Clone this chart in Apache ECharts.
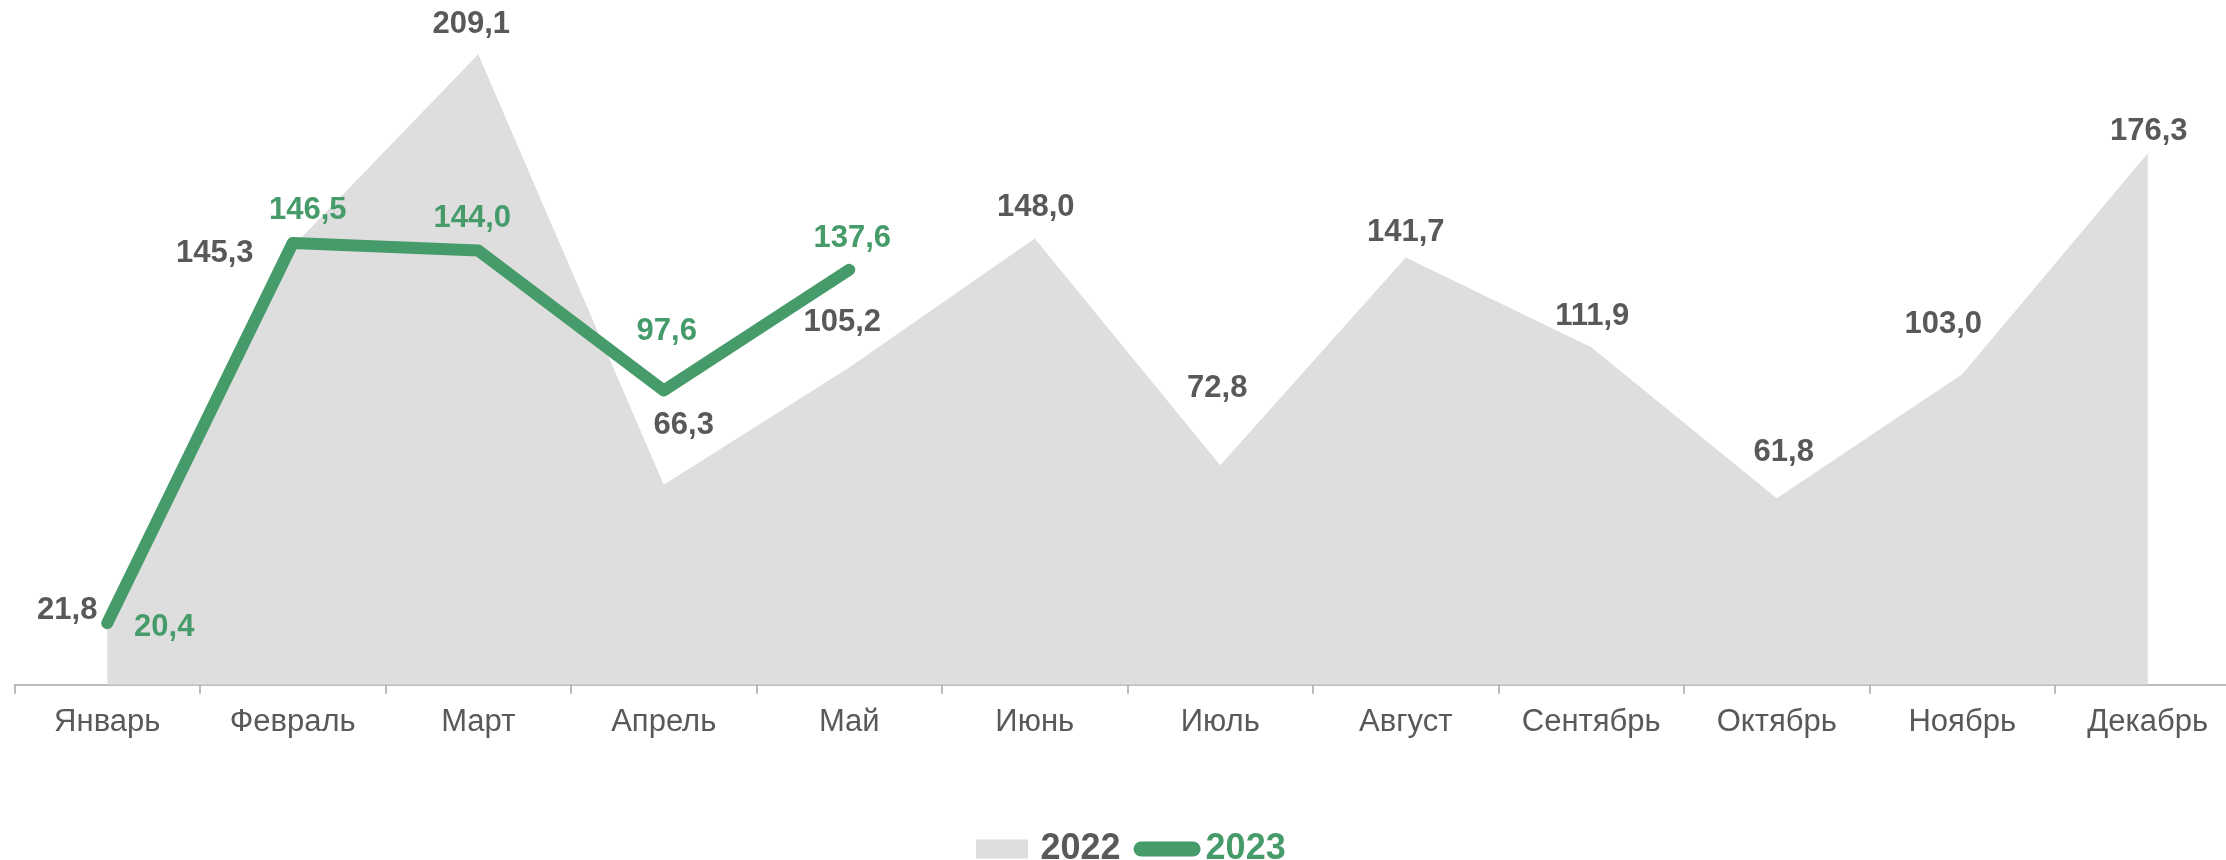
<!DOCTYPE html>
<html>
<head>
<meta charset="utf-8">
<script src="https://cdn.jsdelivr.net/npm/echarts@6/dist/echarts.min.js"></script>
<style>
  html, body { margin: 0; padding: 0; background: #fff; overflow: hidden; }
  /* контейнер чуть шире окна: ось в исходнике уходит за правый край */
  #chart { width: 2242px; height: 860px; }
</style>
</head>
<body>
<div id="chart"></div>
<script>
// данные
const months = ["Январь", "Февраль", "Март", "Апрель", "Май", "Июнь", "Июль", "Август", "Сентябрь", "Октябрь", "Ноябрь", "Декабрь"];
const values2022 = [21.8, 145.3, 209.1, 66.3, 105.2, 148.0, 72.8, 141.7, 111.9, 61.8, 103.0, 176.3];
const values2023 = [20.4, 146.5, 144.0, 97.6, 137.6];

// смещения подписей (как вручную расставлено в исходнике)
const offsets2022 = [[-40, -9], [-78, 7], [-7, -30], [20, -59], [-7, -45], [1, -31], [-3, -77], [0, -25], [1, -31], [7, -46], [-19, -50], [1, -22]];
const offsets2023 = [[57, 4], [15, -33], [-6, -32], [3, -59], [3, -31]];

const GREEN = "#469b6a";
const GRAY_TEXT = "#595959";
const AREA = "#dedede";

const fmt = (v) => v.toFixed(1).replace(".", ",");

const chart = echarts.init(document.getElementById("chart"), null, { renderer: "canvas" });

const withLabels = (vals, offs) => vals.map((v, i) => ({
  value: v,
  label: { offset: offs[i] },
}));

const option = {
  animation: false,
  grid: { left: 14.5, width: 2226, top: 21.4, bottom: 175.3 },
  xAxis: {
    type: "category",
    data: months,
    boundaryGap: true,
    axisLine: { lineStyle: { color: "#a6a6a6", width: 1.5 } },
    axisTick: { show: true, length: 9, lineStyle: { color: "#a6a6a6", width: 1.5 } },
    axisLabel: {
      interval: 0,
      margin: 22,
      fontFamily: "Liberation Sans",
      fontSize: 31,
      color: GRAY_TEXT,
    },
  },
  yAxis: {
    type: "value",
    min: 0,
    max: 220,
    show: false,
    splitLine: { show: false },
  },
  legend: {
    left: 971,
    top: 826,
    itemWidth: 67,
    itemHeight: 19,
    itemGap: 13,
    symbolKeepAspect: true,
    textStyle: { fontFamily: "Liberation Sans", fontSize: 36, fontWeight: "bold" },
    data: [
      { name: "2022", icon: "path://M0,0H52V19H0Z", textStyle: { color: GRAY_TEXT } },
      { name: "2023", icon: "path://M7.5,0H59.5A7.5,7.5,0,0,1,59.5,15H7.5A7.5,7.5,0,0,1,7.5,0Z", textStyle: { color: GREEN } },
    ],
  },
  series: [
    {
      name: "2022",
      type: "line",
      data: withLabels(values2022, offsets2022),
      symbol: "circle",
      symbolSize: 1,
      itemStyle: { color: AREA },
      lineStyle: { width: 0, color: AREA },
      areaStyle: { color: AREA, opacity: 1 },
      label: {
        show: true,
        position: "inside",
        formatter: (p) => fmt(p.value),
        fontFamily: "Liberation Sans",
        fontSize: 31,
        fontWeight: "bold",
        color: GRAY_TEXT,
      },
      emphasis: { disabled: true },
      z: 1,
    },
    {
      name: "2023",
      type: "line",
      data: withLabels(values2023, offsets2023),
      symbol: "circle",
      symbolSize: 2,
      itemStyle: { color: GREEN },
      lineStyle: { width: 12, color: GREEN, cap: "round", join: "round" },
      label: {
        show: true,
        position: "inside",
        formatter: (p) => fmt(p.value),
        fontFamily: "Liberation Sans",
        fontSize: 31,
        fontWeight: "bold",
        color: GREEN,
      },
      emphasis: { disabled: true },
      z: 3,
    },
  ],
};

chart.setOption(option);
</script>
</body>
</html>
